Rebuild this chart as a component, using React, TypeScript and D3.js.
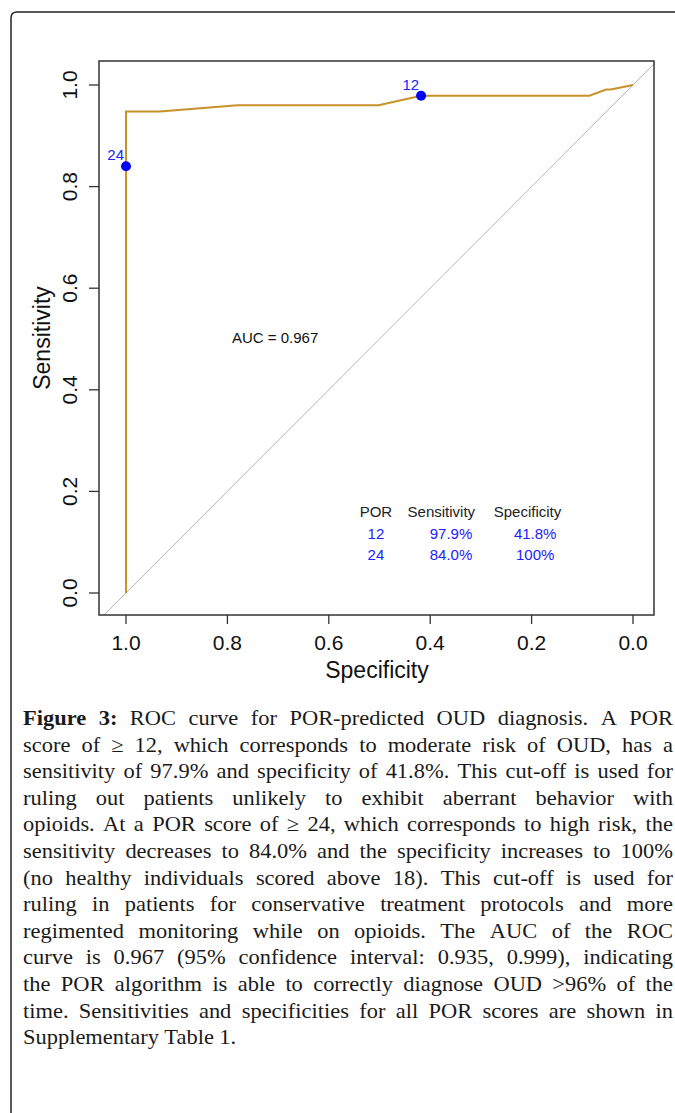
import React, { useEffect, useRef } from 'react';
import * as d3 from 'd3';

// ROC curve points (x = specificity, y = sensitivity)
const specificity = [1, 1, 1, 0.933, 0.78, 0.502, 0.418, 0.086, 0.053, 0.044, 0];
const sensitivity = [0, 0.84, 0.948, 0.948, 0.96, 0.96, 0.979, 0.979, 0.991, 0.991, 1];

// highlighted cut-offs
const cutScores = ['12', '24'];
const cutSpec = [0.418, 1.0];
const cutSens = [0.979, 0.84];
const tableSens = ['97.9%', '84.0%'];
const tableSpec = ['41.8%', '100%'];
const tableHeader = ['POR', 'Sensitivity', 'Specificity'];

const tickValues = [0, 0.2, 0.4, 0.6, 0.8, 1.0];
const aucLabel = 'AUC = 0.967';

const captionLines = [
    'Figure 3: ROC curve for POR-predicted OUD diagnosis. A POR',
    'score of \u2265 12, which corresponds to moderate risk of OUD, has a',
    'sensitivity of 97.9% and specificity of 41.8%. This cut-off is used for',
    'ruling out patients unlikely to exhibit aberrant behavior with',
    'opioids. At a POR score of \u2265 24, which corresponds to high risk, the',
    'sensitivity decreases to 84.0% and the specificity increases to 100%',
    '(no healthy individuals scored above 18). This cut-off is used for',
    'ruling in patients for conservative treatment protocols and more',
    'regimented monitoring while on opioids. The AUC of the ROC',
    'curve is 0.967 (95% confidence interval: 0.935, 0.999), indicating',
    'the POR algorithm is able to correctly diagnose OUD >96% of the',
    'time. Sensitivities and specificities for all POR scores are shown in',
    'Supplementary Table 1.',
];

const W = 675;
const H = 1113;

const App = () => {
    const ref = useRef<SVGSVGElement | null>(null);

    useEffect(() => {
        if (!ref.current) return;
        const svg = d3.select(ref.current);
        svg.selectAll('*').remove();

        // outer frame, only the top-left corner is visible
        svg.append('path')
            .attr('d', `M11,${H} V18 Q11,12 17,12 H${W}`)
            .attr('fill', 'none')
            .attr('stroke', '#222')
            .attr('stroke-width', 1.5);

        const box = { left: 99, right: 654, top: 61, bottom: 615 };

        const x = d3.scaleLinear().domain([1, 0]).range([126, 633]);
        const y = d3.scaleLinear().domain([0, 1]).range([593, 85]);

        const font = 'Liberation Sans, Arial, sans-serif';

        svg.append('defs').append('clipPath').attr('id', 'plotClip')
            .append('rect')
            .attr('x', box.left).attr('y', box.top)
            .attr('width', box.right - box.left).attr('height', box.bottom - box.top);

        // chance diagonal
        svg.append('line')
            .attr('clip-path', 'url(#plotClip)')
            .attr('x1', x(1.2)).attr('y1', y(-0.2))
            .attr('x2', x(-0.2)).attr('y2', y(1.2))
            .attr('stroke', '#b4b8b0')
            .attr('stroke-width', 1);

        // ROC curve
        const pts = specificity.map((s, i) => [s, sensitivity[i]]);
        svg.append('path')
            .datum(pts)
            .attr('fill', 'none')
            .attr('stroke', '#c8912a')
            .attr('stroke-width', 2)
            .attr('d', d3.line().x(d => x(d[0])).y(d => y(d[1])));

        // plot box
        svg.append('rect')
            .attr('x', box.left).attr('y', box.top)
            .attr('width', box.right - box.left).attr('height', box.bottom - box.top)
            .attr('fill', 'none')
            .attr('stroke', '#333')
            .attr('stroke-width', 1.5);

        // x axis
        const xAxis = svg.append('g').attr('font-family', font).attr('fill', '#111');
        tickValues.forEach(t => {
            xAxis.append('line')
                .attr('x1', x(t)).attr('x2', x(t))
                .attr('y1', box.bottom).attr('y2', box.bottom + 9)
                .attr('stroke', '#333').attr('stroke-width', 1.3);
            xAxis.append('text')
                .attr('x', x(t)).attr('y', 650)
                .attr('text-anchor', 'middle')
                .attr('font-size', 21)
                .text(d3.format('.1f')(t));
        });
        xAxis.append('text')
            .attr('x', 377).attr('y', 678)
            .attr('text-anchor', 'middle')
            .attr('font-size', 23)
            .text('Specificity');

        // y axis
        const yAxis = svg.append('g').attr('font-family', font).attr('fill', '#111');
        tickValues.forEach(t => {
            yAxis.append('line')
                .attr('x1', box.left - 10).attr('x2', box.left)
                .attr('y1', y(t)).attr('y2', y(t))
                .attr('stroke', '#333').attr('stroke-width', 1.3);
            yAxis.append('text')
                .attr('transform', `translate(77,${y(t)}) rotate(-90)`)
                .attr('text-anchor', 'middle')
                .attr('font-size', 21)
                .text(d3.format('.1f')(t));
        });
        yAxis.append('text')
            .attr('transform', `translate(50,${(box.top + box.bottom) / 2}) rotate(-90)`)
            .attr('text-anchor', 'middle')
            .attr('font-size', 23)
            .text('Sensitivity');

        // cut-off points
        const cut = svg.append('g').attr('font-family', font);
        cutScores.forEach((s, i) => {
            cut.append('circle')
                .attr('cx', x(cutSpec[i])).attr('cy', y(cutSens[i]))
                .attr('r', 5)
                .attr('fill', '#0000ff');
            cut.append('text')
                .attr('x', x(cutSpec[i]) - 2).attr('y', y(cutSens[i]) - 6)
                .attr('text-anchor', 'end')
                .attr('font-size', 15)
                .attr('fill', '#2020ff')
                .text(s);
        });

        // AUC
        svg.append('text')
            .attr('x', x(0.791)).attr('y', y(0.492))
            .attr('font-family', font)
            .attr('font-size', 15)
            .attr('fill', '#111')
            .text(aucLabel);

        // table of cut-offs
        const tbl = svg.append('g').attr('font-family', font).attr('font-size', 15);
        const headX = [0.507, 0.378, 0.208];
        const valX = [0.507, 0.359, 0.193];
        tableHeader.forEach((h, i) => {
            tbl.append('text')
                .attr('x', x(headX[i])).attr('y', y(0.149))
                .attr('text-anchor', 'middle')
                .attr('fill', '#222')
                .text(h);
        });
        cutScores.forEach((s, i) => {
            const row = [s, tableSens[i], tableSpec[i]];
            row.forEach((v, j) => {
                tbl.append('text')
                    .attr('x', x(valX[j])).attr('y', y(0.106 - i * 0.042))
                    .attr('text-anchor', 'middle')
                    .attr('fill', '#2020ff')
                    .text(v);
            });
        });

        // caption, justified by hand (slightly widened serif)
        const sx = 1.07;
        const cap = svg.append('g')
            .attr('transform', `scale(${sx},1)`)
            .attr('font-family', 'Liberation Serif, Times New Roman, serif')
            .attr('font-size', 21)
            .attr('fill', '#1a1a1a');
        const L = 23 / sx;
        const R = 673 / sx;
        captionLines.forEach((line, i) => {
            const yb = 725 + i * 26.6;
            const words = line.split(' ');
            const nodes = words.map((w, j) => {
                const t = cap.append('text').attr('y', yb).text(w);
                if (i === 0 && j < 2) t.attr('font-weight', 'bold');
                return t;
            });
            const widths = nodes.map(n => (n.node() as SVGTextElement).getComputedTextLength());
            const total = d3.sum(widths);
            const last = i === captionLines.length - 1;
            const gap = last ? 5 : (R - L - total) / (words.length - 1);
            let cx = L;
            nodes.forEach((n, j) => {
                n.attr('x', cx);
                cx += widths[j] + gap;
            });
        });
    }, []);

    return (
        <div style={{ position: 'absolute', left: 0, top: 0 }}>
            <svg ref={ref} width={W} height={H} style={{ display: 'block', background: '#fff' }} />
        </div>
    );
};

export default App;
